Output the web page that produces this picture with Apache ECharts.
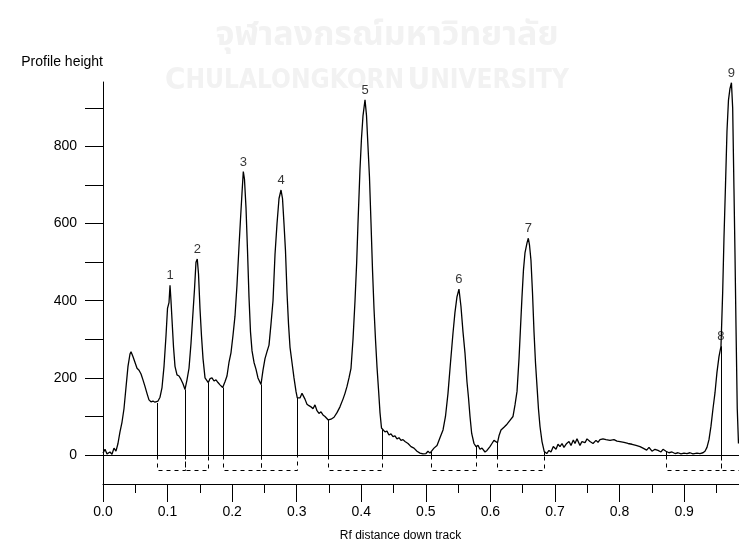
<!DOCTYPE html>
<html>
<head>
<meta charset="utf-8">
<title>Profile height vs Rf</title>
<script src="https://cdn.jsdelivr.net/npm/echarts@6/dist/echarts.min.js"></script>
<style>
  html, body { margin: 0; padding: 0; background: #ffffff; }
  #chart { width: 739px; height: 545px; }
</style>
</head>
<body>
<div id="chart"></div>
<script>
// Densitometric track profile: Rf position and profile height
const profileRf = [
  0.0000, 0.0031, 0.0062, 0.0108, 0.0139, 0.0170, 0.0201, 0.0232, 0.0263, 0.0294,
  0.0325, 0.0356, 0.0387, 0.0418, 0.0434, 0.0465, 0.0496, 0.0527, 0.0558, 0.0589,
  0.0619, 0.0650, 0.0681, 0.0712, 0.0743, 0.0774, 0.0805, 0.0832, 0.0852, 0.0883,
  0.0914, 0.0945, 0.0976, 0.0999, 0.1022, 0.1038, 0.1053, 0.1069, 0.1092, 0.1115,
  0.1146, 0.1177, 0.1208, 0.1239, 0.1270, 0.1301, 0.1332, 0.1363, 0.1394, 0.1417,
  0.1440, 0.1460, 0.1479, 0.1502, 0.1525, 0.1549, 0.1580, 0.1603, 0.1631, 0.1657,
  0.1688, 0.1719, 0.1750, 0.1781, 0.1812, 0.1854, 0.1889, 0.1920, 0.1951, 0.1982,
  0.2013, 0.2044, 0.2075, 0.2106, 0.2129, 0.2153, 0.2173, 0.2191, 0.2215, 0.2238,
  0.2261, 0.2284, 0.2308, 0.2339, 0.2370, 0.2400, 0.2447, 0.2478, 0.2509, 0.2540,
  0.2571, 0.2602, 0.2633, 0.2664, 0.2695, 0.2726, 0.2757, 0.2780, 0.2803, 0.2826,
  0.2850, 0.2873, 0.2896, 0.2927, 0.2958, 0.2989, 0.3009, 0.3051, 0.3082, 0.3105,
  0.3128, 0.3159, 0.3190, 0.3221, 0.3252, 0.3283, 0.3314, 0.3345, 0.3376, 0.3407,
  0.3438, 0.3489, 0.3531, 0.3578, 0.3624, 0.3670, 0.3717, 0.3748, 0.3779, 0.3810,
  0.3841, 0.3872, 0.3903, 0.3929, 0.3949, 0.3980, 0.4003, 0.4027, 0.4058, 0.4081,
  0.4104, 0.4127, 0.4151, 0.4174, 0.4197, 0.4220, 0.4243, 0.4267, 0.4290, 0.4313,
  0.4341, 0.4367, 0.4398, 0.4429, 0.4460, 0.4491, 0.4522, 0.4553, 0.4584, 0.4615,
  0.4646, 0.4677, 0.4724, 0.4770, 0.4816, 0.4863, 0.4909, 0.4956, 0.5002, 0.5033,
  0.5064, 0.5087, 0.5126, 0.5173, 0.5219, 0.5266, 0.5304, 0.5343, 0.5382, 0.5420,
  0.5451, 0.5482, 0.5513, 0.5544, 0.5575, 0.5606, 0.5637, 0.5660, 0.5684, 0.5710,
  0.5746, 0.5777, 0.5808, 0.5839, 0.5870, 0.5916, 0.5947, 0.5993, 0.6024, 0.6055,
  0.6079, 0.6110, 0.6133, 0.6164, 0.6210, 0.6257, 0.6303, 0.6350, 0.6381, 0.6412,
  0.6443, 0.6466, 0.6489, 0.6512, 0.6536, 0.6567, 0.6587, 0.6605, 0.6628, 0.6652,
  0.6675, 0.6698, 0.6721, 0.6744, 0.6768, 0.6799, 0.6834, 0.6872, 0.6907, 0.6938,
  0.6974, 0.7016, 0.7047, 0.7078, 0.7109, 0.7139, 0.7181, 0.7217, 0.7248, 0.7284,
  0.7310, 0.7341, 0.7387, 0.7418, 0.7465, 0.7496, 0.7542, 0.7589, 0.7635, 0.7666,
  0.7697, 0.7744, 0.7790, 0.7852, 0.7914, 0.7960, 0.8007, 0.8069, 0.8131, 0.8193,
  0.8255, 0.8317, 0.8363, 0.8420, 0.8456, 0.8502, 0.8549, 0.8595, 0.8642, 0.8673,
  0.8719, 0.8766, 0.8812, 0.8859, 0.8905, 0.8952, 0.8998, 0.9044, 0.9091, 0.9137,
  0.9199, 0.9246, 0.9292, 0.9323, 0.9354, 0.9385, 0.9416, 0.9447, 0.9478, 0.9509,
  0.9540, 0.9571, 0.9597, 0.9617, 0.9641, 0.9664, 0.9687, 0.9710, 0.9733, 0.9752,
  0.9772, 0.9788, 0.9803, 0.9823, 0.9842
];
const profileHeight = [
  5, 15, 3, 8, 2, 18, 10, 30, 60, 85,
  120, 175, 230, 262, 268, 255, 240, 225, 220, 210,
  195, 178, 160, 143, 138, 140, 137, 135, 140, 150,
  175, 230, 310, 380, 395, 440, 400, 350, 280, 230,
  208, 205, 196, 185, 170, 195, 225, 290, 370, 430,
  500, 508, 470, 380, 310, 250, 200, 195, 188, 198,
  200, 192, 195, 188, 182, 175, 190, 205, 240, 265,
  310, 360, 440, 540, 610, 680, 735, 715, 640, 530,
  410, 320, 270, 240, 222, 200, 183, 220, 250, 268,
  285, 340, 400, 520, 600, 665, 687, 665, 600, 530,
  420, 340, 280, 240, 200, 165, 148, 148, 160, 155,
  145, 132, 128, 125, 120, 130, 115, 108, 112, 104,
  100, 91, 93, 98, 110, 125, 145, 160, 178, 200,
  225, 300, 400, 500, 600, 740, 820, 880, 921, 880,
  800, 720, 600, 480, 380, 300, 230, 170, 110, 70,
  65, 60, 62, 52, 55, 48, 50, 42, 45, 38,
  40, 35, 30, 22, 18, 10, 5, 3, 4, 10,
  5, 10, 18, 25, 45, 65, 100, 160, 240, 315,
  370, 410, 430, 385, 320, 265, 190, 150, 100, 56,
  30, 22, 25, 15, 18, 8, 12, 22, 30, 38,
  43, 32, 50, 65, 72, 80, 90, 100, 130, 165,
  250, 330, 410, 480, 525, 550, 562, 545, 505, 420,
  320, 240, 180, 120, 74, 35, 9, 4, 12, 8,
  22, 15, 28, 22, 30, 20, 30, 35, 25, 39,
  30, 42, 25, 35, 32, 42, 35, 30, 38, 33,
  40, 42, 40, 38, 40, 36, 35, 33, 30, 28,
  25, 22, 18, 13, 20, 10, 15, 12, 8, 15,
  10, 6, 8, 4, 6, 3, 5, 4, 6, 3,
  5, 4, 6, 10, 20, 40, 75, 120, 161, 215,
  255, 282, 421, 560, 700, 840, 920, 950, 965, 900,
  690, 520, 340, 120, 30
];

// Detected peaks: number, Rf of the apex, apex height
const peakNames = ['1', '2', '3', '4', '5', '6', '7', '8', '9'];
const peakRf = [0.1038, 0.1460, 0.2173, 0.2757, 0.4058, 0.5513, 0.6587, 0.9571, 0.9733];
const peakHeight = [440, 508, 735, 687, 921, 430, 562, 282, 965];

// Integration limits of each peak
const peakStartRf = [0.0832, 0.1270, 0.1854, 0.2447, 0.3489, 0.5079, 0.6107, 0.8714, 0.9571];
const peakEndRf   = [0.1270, 0.1631, 0.2447, 0.3009, 0.4326, 0.5777, 0.6834, 0.9571, 1.0000];

// Drop lines at the limits: Rf and profile height there
const cutRf     = [0.0832, 0.1270, 0.1631, 0.1854, 0.2447, 0.3009, 0.3489, 0.4326, 0.5079, 0.5777, 0.6107, 0.6834, 0.8714, 0.9571];
const cutHeight = [135, 170, 188, 175, 183, 148, 91, 67, 8, 22, 33, 9, 10, 282];

// Axis ticks and labels
const xTickValues = [0, 0.1, 0.2, 0.3, 0.4, 0.5, 0.6, 0.7, 0.8, 0.9];
const xMinorTickValues = [0.05, 0.15, 0.25, 0.35, 0.45, 0.55, 0.65, 0.75, 0.85, 0.95];
const yTickValues = [0, 100, 200, 300, 400, 500, 600, 700, 800, 900];
const yLabelValues = [0, 200, 400, 600, 800];

const xTitle = 'Rf distance down track';
const yTitle = 'Profile height';
const watermarkThai = 'จุฬาลงกรณ์มหาวิทยาลัย';

const FONT = '"Liberation Sans", Arial, sans-serif';
const WATERMARK = '#f2f2f2';
const BRACKET_DEPTH = -39;   // depth of the dashed integration brackets below zero

const crisp = v => Math.round(v) + 0.5;

const chart = echarts.init(document.getElementById('chart'), null, { renderer: 'canvas' });

chart.setOption({
  animation: false,
  backgroundColor: '#ffffff',
  grid: { left: 103, right: 0, top: 82, bottom: 61, outerBoundsMode: 'none', containLabel: false },
  graphic: [
    {
      type: 'text', z: -10, silent: true,
      x: 387, y: 38,
      style: {
        text: watermarkThai, fill: WATERMARK,
        font: 'bold 34px "Noto Sans Thai", "Noto Sans", Tahoma, sans-serif',
        textAlign: 'center', textVerticalAlign: 'middle'
      }
    },
    {
      type: 'text', z: -10, silent: true,
      x: 367, y: 81,
      style: {
        text: '{a|C}{b|HULALONGKORN} {a|U}{b|NIVERSITY}',
        textAlign: 'center', textVerticalAlign: 'middle',
        rich: {
          a: { fontSize: 31, fontWeight: 'bold', fontFamily: '"DejaVu Sans Condensed", "DejaVu Sans", sans-serif', fill: WATERMARK, color: WATERMARK },
          b: { fontSize: 26, fontWeight: 'bold', fontFamily: '"DejaVu Sans Condensed", "DejaVu Sans", sans-serif', fill: WATERMARK, color: WATERMARK }
        }
      }
    }
  ],
  xAxis: [
    {
      type: 'value', min: 0, max: 0.985, position: 'bottom',
      axisLine: { show: true, onZero: false, lineStyle: { color: '#000', width: 1 } },
      axisTick: { show: true, length: 18, customValues: xTickValues, lineStyle: { color: '#000', width: 1 } },
      axisLabel: {
        customValues: xTickValues, margin: 21, color: '#000', fontSize: 14, fontFamily: FONT,
        formatter: v => v.toFixed(1)
      },
      splitLine: { show: false },
      minorTick: { show: false },
      name: xTitle, nameLocation: 'middle', nameGap: 46,
      nameTextStyle: { color: '#000', fontSize: 12, fontFamily: FONT, padding: [0, 41, 0, 0] }
    },
    {
      type: 'value', min: 0, max: 0.985, position: 'bottom',
      axisLine: { show: false, onZero: false },
      axisTick: { show: true, length: 9, customValues: xMinorTickValues, lineStyle: { color: '#000', width: 1 } },
      axisLabel: { show: false },
      splitLine: { show: false }
    }
  ],
  yAxis: {
    type: 'value', min: -75, max: 967,
    axisLine: { show: true, onZero: false, lineStyle: { color: '#000', width: 1 } },
    axisTick: { show: true, length: 18, customValues: yTickValues, lineStyle: { color: '#000', width: 1 } },
    axisLabel: { customValues: yLabelValues, margin: 26, color: '#000', fontSize: 14, fontFamily: FONT },
    splitLine: { show: false },
    name: yTitle, nameLocation: 'end', nameGap: 20,
    nameTextStyle: { color: '#000', fontSize: 14, fontFamily: FONT, align: 'right', verticalAlign: 'middle' }
  },
  series: [
    {
      name: 'Profile', type: 'line',
      data: profileRf.map((x, i) => [x, profileHeight[i]]),
      showSymbol: false, symbol: 'none', smooth: false,
      lineStyle: { color: '#000', width: 1.3 },
      z: 3, silent: true,
      markLine: {
        silent: true, symbol: 'none', label: { show: false },
        lineStyle: { color: '#000', type: 'solid', width: 1 },
        data: [{ yAxis: 0 }]
      }
    },
    {
      name: 'Limits', type: 'custom', silent: true, z: 2,
      data: cutRf.map((x, i) => [x, cutHeight[i]]),
      encode: { x: 0, y: 1 },
      renderItem: (params, api) => {
        const base = api.coord([api.value(0), 0]);
        const top = api.coord([api.value(0), api.value(1)]);
        const px = crisp(base[0]);
        return {
          type: 'line',
          shape: { x1: px, y1: base[1], x2: px, y2: top[1] },
          style: { stroke: '#000', lineWidth: 1 }
        };
      }
    },
    {
      name: 'Brackets', type: 'custom', silent: true, clip: true, z: 2,
      data: peakStartRf.map((s, i) => [s, peakEndRf[i]]),
      encode: { x: [0, 1] },
      renderItem: (params, api) => {
        const s = api.value(0), e = api.value(1);
        const p0 = api.coord([s, 0]), p1 = api.coord([s, BRACKET_DEPTH]);
        const p2 = api.coord([e, BRACKET_DEPTH]), p3 = api.coord([e, 0]);
        const pts = [p0, p1, p2, p3].map(p => [crisp(p[0]), crisp(p[1])]);
        return {
          type: 'polyline',
          shape: { points: pts },
          style: { stroke: '#000', fill: null, lineWidth: 1, lineDash: [4, 4] }
        };
      }
    },
    {
      name: 'Peaks', type: 'scatter', silent: true, z: 4,
      symbolSize: 0,
      data: peakRf.map((x, i) => ({ name: peakNames[i], value: [x, peakHeight[i]] })),
      label: {
        show: true, position: 'top', distance: 3, formatter: '{b}',
        color: '#000', fontSize: 13, fontFamily: FONT
      }
    }
  ]
});
</script>
</body>
</html>
